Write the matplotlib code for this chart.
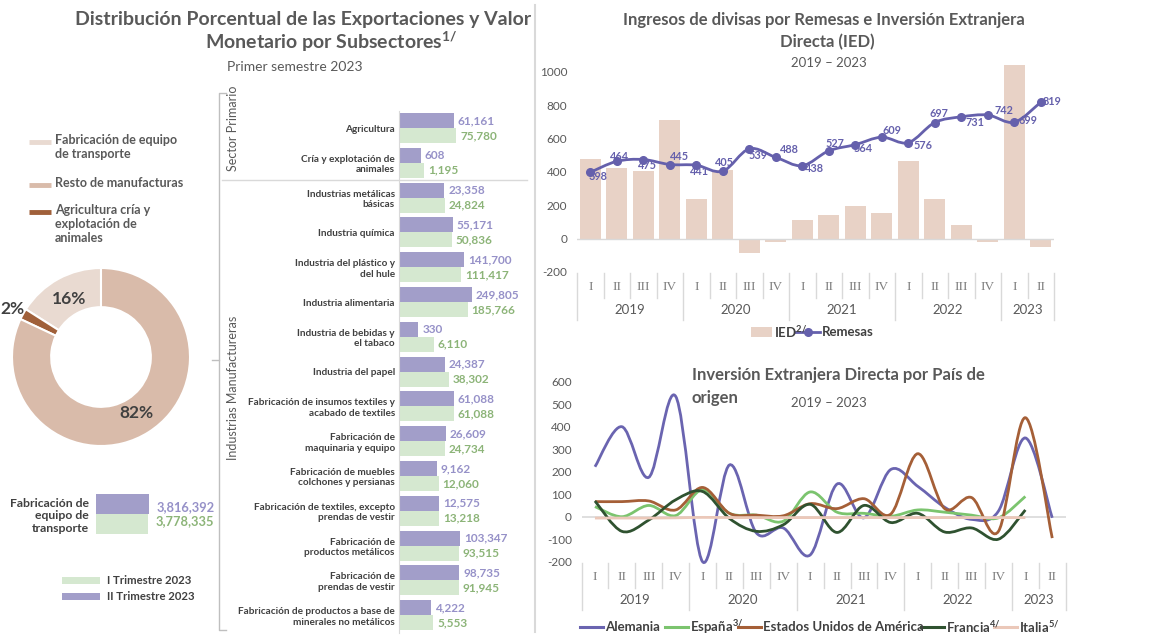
import numpy as np
import matplotlib
matplotlib.use('Agg')
import matplotlib.pyplot as plt
from matplotlib.path import Path
from matplotlib.patches import PathPatch, Rectangle
from matplotlib.lines import Line2D
import matplotlib.transforms as mtransforms

plt.rcParams['font.family'] = ['Lato', 'DejaVu Sans']
plt.rcParams['mathtext.default'] = 'regular'

# ---------------- DATA ----------------
donut_labels = ['Fabricación de equipo\nde transporte', 'Resto de manufacturas',
                'Agricultura cría y\nexplotación de\nanimales']
donut_values = [16, 82, 2]

transport_label = 'Fabricación de\nequipo de\ntransporte'
transport_q2 = 3816392
transport_q1 = 3778335
trim_labels = ['I Trimestre 2023', 'II Trimestre 2023']

subsectors = ['Agricultura', 'Cría y explotación de\nanimales', 'Industrias metálicas\nbásicas',
              'Industria química', 'Industria del plástico y\ndel hule', 'Industria alimentaria',
              'Industria de bebidas y\nel tabaco', 'Industria del papel',
              'Fabricación de insumos textiles y\nacabado de textiles',
              'Fabricación de\nmaquinaria y equipo', 'Fabricación de muebles\ncolchones y persianas',
              'Fabricación de textiles, excepto\nprendas de vestir', 'Fabricación de\nproductos metálicos',
              'Fabricación de\nprendas de vestir',
              'Fabricación de productos a base de\nminerales no metálicos']
trim2 = [61161, 608, 23358, 55171, 141700, 249805, 330, 24387, 61088, 26609, 9162, 12575,
         103347, 98735, 4222]
trim1 = [75780, 1195, 24824, 50836, 111417, 185766, 6110, 38302, 61088, 24734, 12060, 13218,
         93515, 91945, 5553]
groups = ['Sector Primario', 'Industrias Manufactureras']

quarters = ['I', 'II', 'III', 'IV'] * 4 + ['I', 'II']
years = ['2019', '2020', '2021', '2022', '2023']
ied = [476, 426, 404, 710, 240, 410, -86, -18, 110, 140, 194, 156, 466, 240, 80, -18, 1040, -52]
remesas = [398, 464, 475, 445, 441, 405, 539, 488, 438, 527, 564, 609, 576, 697, 731, 742, 699, 819]

pais_names = ['Alemania', 'España$^{3/}$', 'Estados Unidos de América', 'Francia$^{4/}$', 'Italia$^{5/}$']
alemania = [222, 400, 175, 535, -200, 230, -72, -50, -170, 145, -5, 210, 135, 42, -12, 25, 350, -5]
espana = [45, 0, 50, 5, 120, 15, 7, -20, 110, 20, 15, 2, 30, 20, 7, -5, 90]
eua = [67, 67, 70, 30, 130, 15, 7, 4, 58, 36, 80, 12, 280, 36, 85, -65, 440, -95]
francia = [70, -65, -15, 75, 112, -8, -65, -36, 55, -70, 50, -26, 15, -68, -50, -100, 30]
italia = [-6, -6, -6, -5, -3, -4, -4, -4, -4, -4, -4, -4, -4, -4, -4, -4, -4]

# ---------------- STYLE ----------------
W, H = 1151, 635
DARK = '#404040'
GRAY = '#595959'
LINEG = '#D9D9D9'
PURPLE_BAR = '#A29EC9'
GREEN_BAR = '#D5E8D0'
PURPLE_TXT = '#9691C8'
GREEN_TXT = '#8CB478'
IED_COL = '#E8D2C6'
REM_COL = '#6560AC'
DONUT_COLS = ['#E9DAD1', '#D9BBAA', '#A0603A']
PAIS_COLS = ['#6A64B0', '#7BC46E', '#A55F37', '#2F5230', '#EBC8B9']

fig = plt.figure(figsize=(W / 100, H / 100), dpi=100)
fig.patch.set_facecolor('white')


def add_ax(l, t, r, b):
    return fig.add_axes([l / W, 1 - b / H, (r - l) / W, (b - t) / H])


def ftext(x, y, s, **kw):
    return fig.text(x / W, 1 - y / H, s, **kw)


def fline(xs, ys, **kw):
    fig.add_artist(Line2D([x / W for x in xs], [1 - y / H for y in ys], **kw))


def frect(x0, y0, x1, y1, color):
    fig.add_artist(Rectangle((x0 / W, 1 - y1 / H), (x1 - x0) / W, (y1 - y0) / H,
                             transform=fig.transFigure, color=color, lw=0))


def smooth_path(x, y):
    x = np.asarray(x, float)
    y = np.asarray(y, float)
    n = len(x)
    verts = [(x[0], y[0])]
    codes = [Path.MOVETO]
    for i in range(n - 1):
        p0 = np.array([x[max(i - 1, 0)], y[max(i - 1, 0)]])
        p1 = np.array([x[i], y[i]])
        p2 = np.array([x[i + 1], y[i + 1]])
        p3 = np.array([x[min(i + 2, n - 1)], y[min(i + 2, n - 1)]])
        c1 = p1 + (p2 - p0) / 6
        c2 = p2 - (p3 - p1) / 6
        verts += [tuple(c1), tuple(c2), tuple(p2)]
        codes += [Path.CURVE4] * 3
    return Path(verts, codes)


def category_axis(ax, top_px, h_px, bottom_px):
    trans = mtransforms.blended_transform_factory(ax.transData, ax.transAxes)

    def fr(y):
        return (bottom_px - y) / h_px
    starts = [i for i, q in enumerate(quarters) if q == 'I'] + [len(quarters)]
    for i, q in enumerate(quarters):
        ax.text(i, fr(top_px + 15), q, transform=trans, ha='center', va='center',
                fontfamily='Liberation Serif', fontsize=9.5, color='#7F7F7F')
    for k in range(len(starts) - 1):
        a, b = starts[k], starts[k + 1]
        ax.text((a + b - 1) / 2, fr(top_px + 38), years[k], transform=trans, ha='center',
                va='center', fontsize=9.5, color=GRAY)
    for i in range(len(quarters) + 1):
        longsep = i in starts
        yb = top_px + (48 if longsep else 26)
        ax.plot([i - 0.5, i - 0.5], [fr(top_px + 1), fr(yb)], transform=trans, clip_on=False,
                color=LINEG, lw=1)


# ================= LEFT PANEL =================
ftext(303, 20, 'Distribución Porcentual de las Exportaciones y Valor', ha='center', va='center',
      fontsize=14, fontweight='bold', color=GRAY)
ftext(331, 42, 'Monetario por Subsectores$^{1/}$', ha='center', va='center',
      fontsize=14, fontweight='bold', color=GRAY)
ftext(295, 67, 'Primer semestre 2023', ha='center', va='center', fontsize=10, color=GRAY)

# donut legend
leg_y = [142, 185, 212]
for lab, col, yy in zip(donut_labels, DONUT_COLS, leg_y):
    fline([29, 51], [yy, yy], color=col, lw=3.5, solid_capstyle='butt')
    ftext(55, yy - 8, lab, ha='left', va='top', fontsize=9, fontweight='bold', color=GRAY,
          linespacing=1.22)

# donut
axd = add_ax(12, 268, 190, 446)
order = [0, 2, 1]
pie_vals = [donut_values[i] for i in order]
pie_cols = [DONUT_COLS[i] for i in order]
wedges, _, autotexts = axd.pie(pie_vals, colors=pie_cols, startangle=90, counterclock=True,
                               radius=1, autopct='%1.0f%%', pctdistance=0.75,
                               wedgeprops=dict(width=0.44, edgecolor='white', linewidth=1.5),
                               textprops=dict(fontsize=12.5, fontweight='bold', color=DARK))
axd.set_xlim(-1, 1)
axd.set_ylim(-1, 1)
wsmall = wedges[1]
ang = np.deg2rad((wsmall.theta1 + wsmall.theta2) / 2)
autotexts[1].set_position((1.13 * np.cos(ang), 1.13 * np.sin(ang)))

# mini bar chart
axt = add_ax(96, 494, 156, 534)
axt.barh([0], [transport_q2], height=1, color=PURPLE_BAR)
axt.barh([1], [transport_q1], height=1, color=GREEN_BAR)
axt.set_xlim(0, transport_q2 * 60 / 53)
axt.set_ylim(1.5, -0.5)
axt.set_yticks([0.5], [transport_label], fontsize=8.8, fontweight='bold', color=DARK)
axt.tick_params(axis='y', length=0, pad=5)
axt.set_xticks([])
for s in axt.spines.values():
    s.set_visible(False)
axt.annotate(f'{transport_q2:,}', xy=(transport_q2, 0), xytext=(8, -3), textcoords='offset pixels',
             ha='left', va='center', fontsize=9.3, fontweight='bold', color=PURPLE_TXT,
             annotation_clip=False)
axt.annotate(f'{transport_q1:,}', xy=(transport_q1, 1), xytext=(7, 3), textcoords='offset pixels',
             ha='left', va='center', fontsize=9.3, fontweight='bold', color=GREEN_TXT,
             annotation_clip=False)

frect(62, 577, 100, 584, GREEN_BAR)
frect(62, 593, 100, 600, PURPLE_BAR)
ftext(107, 580.5, trim_labels[0], ha='left', va='center', fontsize=8.2, fontweight='bold', color=DARK)
ftext(107, 596.5, trim_labels[1], ha='left', va='center', fontsize=8.2, fontweight='bold', color=DARK)

# ================= MIDDLE BAR CHART =================
P = 0.2
axm = add_ax(399, 110.6, 530, 632.6)
axm.set_xscale('function', functions=(lambda v: np.sign(v) * np.abs(v) ** P,
                                      lambda u: np.sign(u) * np.abs(u) ** (1 / P)))
rows = np.arange(len(subsectors))
bh = 0.43
axm.barh(rows - bh / 2, trim2, height=bh, color=PURPLE_BAR)
axm.barh(rows + bh / 2, trim1, height=bh, color=GREEN_BAR)
axm.set_xlim(0, (131 / 6.06) ** (1 / P))
axm.set_ylim(len(subsectors) - 0.5, -0.5)
axm.set_yticks(rows, subsectors, fontsize=7.2, fontweight='bold', color=DARK)
axm.tick_params(axis='y', length=0, pad=3)
axm.set_xticks([])
axm.minorticks_off()
axm.tick_params(axis='x', which='both', length=0, labelbottom=False)
for k, s in axm.spines.items():
    s.set_visible(k == 'left')
axm.spines['left'].set_color(LINEG)
for r, v2, v1 in zip(rows, trim2, trim1):
    axm.annotate(f'{v2:,}', xy=(v2, r - bh / 2), xytext=(4, 0), textcoords='offset pixels',
                 ha='left', va='center', fontsize=8.5, fontweight='bold', color=PURPLE_TXT,
                 annotation_clip=False)
    axm.annotate(f'{v1:,}', xy=(v1, r + bh / 2), xytext=(4, 0), textcoords='offset pixels',
                 ha='left', va='center', fontsize=8.5, fontweight='bold', color=GREEN_TXT,
                 annotation_clip=False)

# group separator and bracket
fline([222, 527], [180, 180], color=LINEG, lw=1)
fline([226, 219, 219, 226], [93, 93, 630, 630], color='#BFBFBF', lw=1)
fline([212, 219], [360, 360], color='#BFBFBF', lw=1)
ftext(233, 128, groups[0], rotation=90, ha='center', va='center', fontsize=9, color=GRAY)
ftext(233, 388, groups[1], rotation=90, ha='center', va='center', fontsize=9, color=GRAY)

# panel divider
fline([535, 535], [5, 632], color=LINEG, lw=1.5)

# ================= TOP RIGHT =================
ftext(824, 20, 'Ingresos de divisas por Remesas e Inversión Extranjera', ha='center', va='center',
      fontsize=12, fontweight='bold', color=GRAY)
ftext(827, 42, 'Directa (IED)', ha='center', va='center', fontsize=12, fontweight='bold', color=GRAY)
ftext(829, 63, '2019 – 2023', ha='center', va='center', fontsize=9.5, color=GRAY)

axr = add_ax(577, 62, 1054, 272)
xs = np.arange(len(quarters))
axr.bar(xs, ied, width=0.79, color=IED_COL, zorder=1)
axr.axhline(0, color=LINEG, lw=1, zorder=1.5)
axr.add_patch(PathPatch(smooth_path(xs, remesas), fill=False, edgecolor=REM_COL, lw=2.0, zorder=3))
axr.plot(xs, remesas, 'o', ms=5.5, color=REM_COL, zorder=4)
axr.set_xlim(-0.5, len(quarters) - 0.5)
axr.set_ylim(-200, 1060)
axr.set_yticks(range(-200, 1001, 200), [str(v) for v in range(-200, 1001, 200)])
axr.tick_params(axis='y', length=0, pad=7, labelsize=8.5, labelcolor=GRAY)
axr.set_xticks([])
for s in axr.spines.values():
    s.set_visible(False)
rem_off = [(8, -4), (3, 5), (4, -6), (10, 8), (3, -6), (2, 9), (9, -7), (14, 8), (12, -3),
           (6, 7), (8, -4), (10, 7), (15, -3), (4, 9), (14, -6), (16, 4), (14, 2), (11, 1)]
for x, v, (dx, dy) in zip(xs, remesas, rem_off):
    axr.annotate(str(v), xy=(x, v), xytext=(dx, dy), textcoords='offset pixels', ha='center',
                 va='center', fontsize=7.8, fontweight='bold', color=REM_COL, zorder=5,
                 annotation_clip=False)
category_axis(axr, 272, 210, 272)

# legend
frect(751, 327, 772, 337, IED_COL)
ftext(774, 332, 'IED$^{2/}$', ha='left', va='center', fontsize=9.5, fontweight='bold', color=DARK)
fline([795, 820], [332, 332], color=REM_COL, lw=2)
fig.add_artist(Line2D([807.5 / W], [1 - 332 / H], marker='o', ms=5.5, color=REM_COL))
ftext(822, 332, 'Remesas', ha='left', va='center', fontsize=9.5, fontweight='bold', color=DARK)

# ================= BOTTOM RIGHT =================
axb = add_ax(581.5, 381.7, 1065.7, 561.7)
axb.axhline(0, color=LINEG, lw=1.2, zorder=1)
for vals, col in zip([alemania, espana, eua, francia, italia], PAIS_COLS):
    xx = np.arange(len(vals))
    axb.add_patch(PathPatch(smooth_path(xx, vals), fill=False, edgecolor=col, lw=2.0, zorder=3,
                            clip_on=False))
axb.set_xlim(-0.5, len(quarters) - 0.5)
axb.set_ylim(-200, 600)
axb.set_yticks(range(-200, 601, 100), [str(v) for v in range(-200, 601, 100)])
axb.tick_params(axis='y', length=0, pad=7, labelsize=8.5, labelcolor=GRAY)
axb.set_xticks([])
for s in axb.spines.values():
    s.set_visible(False)
category_axis(axb, 561.7, 180, 561.7)

ftext(692, 375, 'Inversión Extranjera Directa por País de', ha='left', va='center', fontsize=12,
      fontweight='bold', color=GRAY)
ftext(692, 398, 'origen', ha='left', va='center', fontsize=12, fontweight='bold', color=GRAY)
ftext(829, 403, '2019 – 2023', ha='center', va='center', fontsize=9.5, color=GRAY)

leg_text_x = [605, 690, 763, 946, 1019]
for name, col, tx in zip(pais_names, PAIS_COLS, leg_text_x):
    fline([tx - 25, tx - 2], [627, 627], color=col, lw=2.2)
    ftext(tx, 627, name, ha='left', va='center', fontsize=9.5, fontweight='bold', color=DARK)

fig.savefig('out.png', dpi=100, facecolor='white')
